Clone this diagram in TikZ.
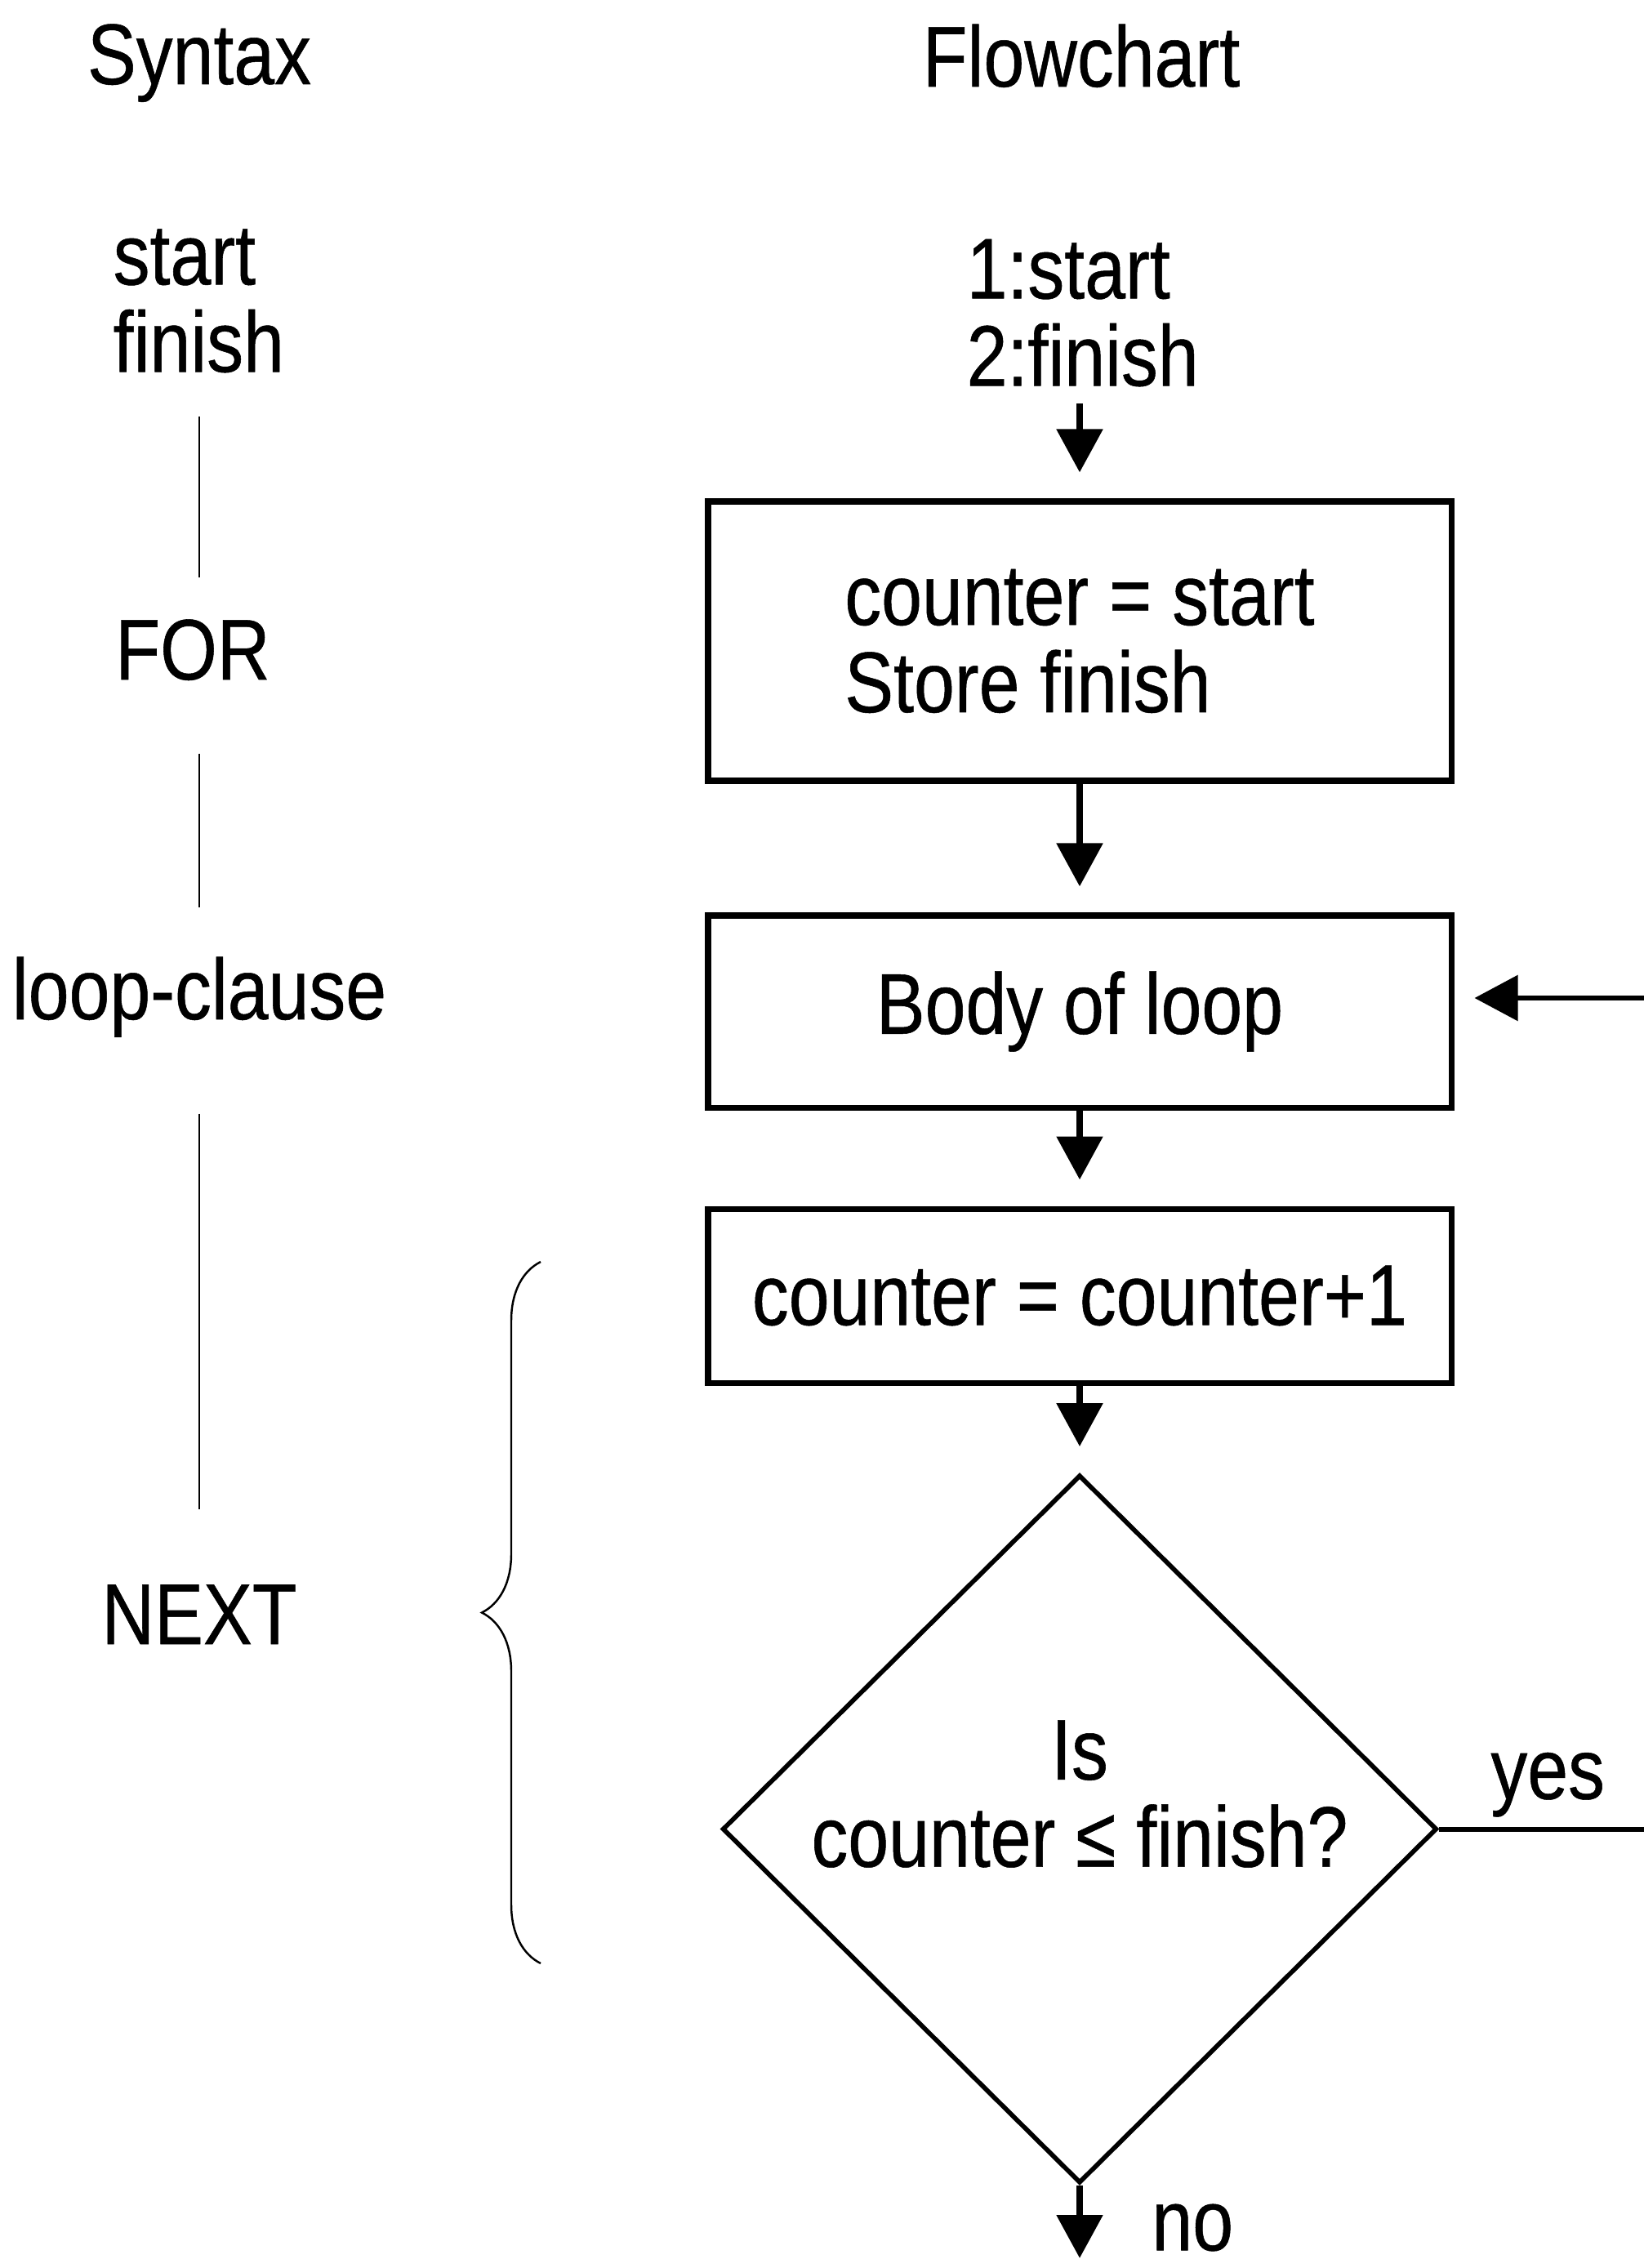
\documentclass[tikz,border=0pt]{standalone}
\usepackage{fontspec}
\setmainfont[FakeStretch=0.85,FakeBold=0.5]{Liberation Sans}
\usetikzlibrary{shapes.geometric,arrows.meta,decorations.pathreplacing}

\tikzset{
  lbl/.style={font=\fontsize{30}{30.4}\selectfont, inner sep=0pt},
  stepbox/.style={lbl, draw, line width=2pt, minimum width=9.1cm, align=left},
  testbox/.style={diamond, draw, line width=1.6pt, minimum width=8.75cm, minimum height=8.67cm, inner sep=0pt},
  flow/.style={-{Triangle[length=5.3mm,width=5.5mm]}, line width=2.5pt, shorten >=0.32cm},
  syn/.style={line width=0.6pt},
}

\begin{document}
\begin{tikzpicture}
    \useasboundingbox (0,0) rectangle (20.13,-27.77);
      % headings
      \node [lbl, anchor=base] (syntax) at (2.44,-1.03) {Syntax};
      \node [lbl, anchor=base] (flowchart) at (13.24,-1.06) {Flowchart};
      % syntax column
      \node [lbl, align=left, anchor=south west] (argsl) at (1.38,-4.57) {start\\finish};
      \node [lbl, anchor=base] (for) at (2.36,-8.32) {FOR};
      \node [lbl, anchor=base] (clause) at (2.44,-12.48) {loop-clause};
      \node [lbl, anchor=base] (next) at (2.44,-20.13) {NEXT};
      \draw [syn, shorten <=0.53cm, shorten >=0.51cm] (argsl.south -| clause.north) -- (clause.north |- for.north);
      \draw [syn, shorten <=0.89cm, shorten >=0.60cm] (clause.north |- for.south) -- (clause.north);
      \draw [syn, shorten <=0.93cm, shorten >=0.92cm] (clause.south) -- (next.north);
      % flowchart column
      \node [lbl, align=left, anchor=south west] (argsr) at (11.83,-4.74) {1:start\\2:finish};
      \node [stepbox, minimum height=3.42cm] (init) at (13.22,-7.85) {counter = start\\Store finish};
      \node [stepbox, minimum height=2.35cm] (body) at (13.22,-12.385) {Body of loop};
      \node [stepbox, minimum height=2.13cm] (incr) at (13.22,-15.865) {counter = counter+1};
      \node [testbox] (test) at (13.22,-22.395) {};
      \node [lbl, align=center] (testq) at ([yshift=0.43cm]test.center) {Is\\counter ≤ finish?};
      \coordinate (loopout) at (20.13,-22.395);
      \coordinate (loopin) at (20.13,-12.22);
      \coordinate (noend) at (13.22,-27.65);
      \draw [flow, shorten <=0.2cm] (init.north |- argsr.south) -- (init.north);
      \draw [flow] (init) -- (body);
      \draw [flow] (body) -- (incr);
      \draw [flow] (incr) -- (test);
      \draw [line width=1.7pt] (test.east) -- node [lbl, above=0.12cm, pos=0.53] (yes) {yes} (loopout);
      \draw [flow, line width=1.7pt, shorten >=0.25cm] (loopin) -- (body.east |- loopin);
      \draw [flow, shorten >=0pt] (test.south) -- node [lbl, right=0.84cm, pos=0.58] (no) {no} (noend);
      % brace round the NEXT steps
      \coordinate (bracebot) at (6.62,-24.04);
      \coordinate (bracetop) at (6.62,-15.45);
      \draw [decorate, decoration={brace, amplitude=0.72cm}, line width=0.7pt] (bracebot) -- (bracetop);
    \end{tikzpicture}
\end{document}
